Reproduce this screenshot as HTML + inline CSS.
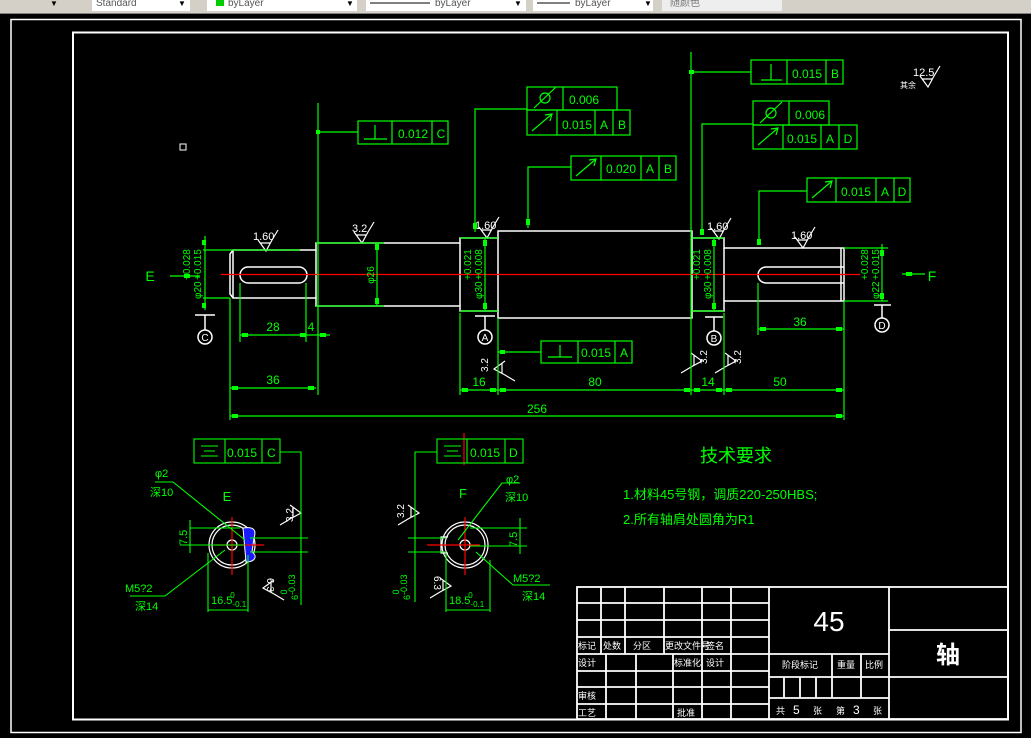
<!DOCTYPE html>
<html><head><meta charset="utf-8"><style>
html,body{margin:0;padding:0;background:#000;width:1031px;height:738px;overflow:hidden}
svg{display:block}
text{font-family:"Liberation Sans","Noto Sans CJK SC",sans-serif}
</style></head><body>
<svg width="1031" height="738" viewBox="0 0 1031 738" xmlns="http://www.w3.org/2000/svg">
<rect width="1031" height="738" fill="#000"/>
<!-- toolbar -->
<rect x="0" y="0" width="1031" height="14" fill="#d4d0c8"/>
<rect x="0" y="13" width="1031" height="1" fill="#808080"/>
<rect x="92" y="0" width="98" height="11" fill="#fff"/><text x="96" y="6" font-size="10" fill="#555">Standard</text>
<rect x="207" y="0" width="150" height="11" fill="#fff"/><rect x="216" y="0" width="8" height="6" fill="#0c0"/><text x="228" y="6" font-size="10" fill="#555">byLayer</text>
<rect x="366" y="0" width="160" height="11" fill="#fff"/><line x1="370" y1="3" x2="430" y2="3" stroke="#000"/><text x="435" y="6" font-size="10" fill="#555">byLayer</text>
<rect x="533" y="0" width="120" height="11" fill="#fff"/><line x1="537" y1="3" x2="570" y2="3" stroke="#000"/><text x="575" y="6" font-size="10" fill="#555">byLayer</text>
<rect x="662" y="0" width="120" height="11" fill="#eee"/><text x="670" y="6" font-size="10" fill="#777">随颜色</text>
<text x="50" y="6" font-size="8" fill="#000">▼</text><text x="178" y="6" font-size="8" fill="#000">▼</text><text x="346" y="6" font-size="8" fill="#000">▼</text><text x="514" y="6" font-size="8" fill="#000">▼</text><text x="644" y="6" font-size="8" fill="#000">▼</text>
<!-- frames -->
<rect x="11" y="19.5" width="1010" height="713" fill="none" stroke="#fff" stroke-width="1.5"/>
<rect x="73" y="32.5" width="935" height="687" fill="none" stroke="#fff" stroke-width="2"/>
<rect x="180" y="144" width="6" height="6" fill="none" stroke="#fff"/>

<g stroke="#fff" stroke-width="1.5" fill="none">
<path d="M233,250 L316,250 L316,243 L460,243 L460,238 L498,238 L498,231 L692,231 L692,238 L724,238 L724,248 L844,248 L844,301 L724,301 L724,311 L692,311 L692,318 L498,318 L498,311 L460,311 L460,306 L316,306 L316,298 L233,298 L230,294 L230,254 Z"/>
<line x1="233" y1="250" x2="233" y2="298"/>
<line x1="841" y1="248" x2="841" y2="301"/>
<line x1="316" y1="250" x2="316" y2="298"/>
<line x1="460" y1="243" x2="460" y2="306"/>
<line x1="498" y1="238" x2="498" y2="311"/>
<line x1="692" y1="238" x2="692" y2="311"/>
<line x1="724" y1="248" x2="724" y2="301"/>
<rect x="240" y="267" width="67" height="16" rx="8"/>
<path d="M844,267 L766,267 A8,8 0 0 0 766,283 L844,283"/>
<line x1="195" y1="315" x2="215" y2="315"/><line x1="205" y1="315" x2="205" y2="330"/><circle cx="205" cy="337" r="7"/>
<line x1="475" y1="316" x2="495" y2="316"/><line x1="485" y1="316" x2="485" y2="330"/><circle cx="485" cy="337" r="7"/>
<line x1="705" y1="317" x2="723" y2="317"/><line x1="714" y1="317" x2="714" y2="331"/><circle cx="714" cy="338" r="7"/>
<line x1="874" y1="305" x2="891" y2="305"/><line x1="882" y1="305" x2="882" y2="318"/><circle cx="882" cy="325" r="7"/>
</g>
<g font-size="10" fill="#fff" text-anchor="middle"><text x="205" y="341">C</text><text x="485" y="341">A</text><text x="714" y="342">B</text><text x="882" y="329">D</text></g>

<line x1="221" y1="274.5" x2="860" y2="274.5" stroke="#f00" stroke-width="1.3"/>

<g stroke="#fff" stroke-width="1.2" fill="none">
<path d="M258,240 L266,251 L272,240 L278,230 M260,243 L270,243"/>
<path d="M354,232 L362,243 L368,232 L374,222 M356,235 L366,235"/>
<path d="M479,227 L487,238 L493,227 L499,217 M481,230 L491,230"/>
<path d="M711,228 L719,239 L725,228 L731,218 M713,231 L723,231"/>
<path d="M795,237 L803,248 L809,237 L815,227 M797,240 L807,240"/>
<path d="M920,76 L928,87 L934,76 L940,66 M922,79 L932,79"/>
<path d="M505,361 L494,369 L505,375 L515,381 M502,363 L502,373"/>
<path d="M691,353 L702,361 L691,367 L681,373 M694,355 L694,365"/>
<path d="M725,353 L736,361 L725,367 L715,373 M728,355 L728,365"/>
<path d="M290,505 L301,513 L290,519 L280,525 M293,507 L293,517"/>
<path d="M274,580 L263,588 L274,594 L284,600 M271,582 L271,592"/>
<path d="M408,505 L419,513 L408,519 L398,525 M411,507 L411,517"/>
<path d="M440,578 L451,586 L440,592 L430,598 M443,580 L443,590"/>
</g>
<g font-size="11" fill="#fff">
<text x="253" y="240">1.60</text><text x="352" y="232">3.2</text><text x="475" y="229">1.60</text><text x="707" y="230">1.60</text><text x="791" y="239">1.60</text><text x="913" y="76">12.5</text>
<text x="900" y="88" font-size="8">其余</text>
<text transform="translate(488,372) rotate(-90)" font-size="10">3.2</text>
<text transform="translate(707,364) rotate(-90)" font-size="10">3.2</text>
<text transform="translate(741,364) rotate(-90)" font-size="10">3.2</text>
<text transform="translate(293,522) rotate(-90)" font-size="10">3.2</text>
<text transform="translate(267,578) rotate(90)" font-size="10">6.3</text>
<text transform="translate(404,518) rotate(-90)" font-size="10">3.2</text>
<text transform="translate(434,576) rotate(90)" font-size="10">6.3</text>
</g>

<g stroke="#0f0" stroke-width="1.2" fill="none">
<line x1="203" y1="250" x2="300" y2="250"/><line x1="203" y1="298" x2="230" y2="298"/><line x1="205" y1="236" x2="205" y2="310"/>
<line x1="170" y1="276" x2="200" y2="276"/>
<line x1="240" y1="283" x2="240" y2="342"/><line x1="306" y1="283" x2="306" y2="342"/><line x1="240" y1="335" x2="330" y2="335"/>
<line x1="318" y1="103" x2="318" y2="395"/>
<line x1="230" y1="298" x2="230" y2="420"/><line x1="230" y1="388" x2="316" y2="388"/>
<line x1="230" y1="416" x2="844" y2="416"/>
<line x1="844" y1="301" x2="844" y2="420"/>
<line x1="316" y1="243" x2="384" y2="243"/><line x1="316" y1="306" x2="384" y2="306"/><line x1="377" y1="243" x2="377" y2="306"/>
<line x1="460" y1="238" x2="498" y2="238"/><line x1="460" y1="311" x2="498" y2="311"/><line x1="485" y1="238" x2="485" y2="311"/>
<line x1="460" y1="313" x2="460" y2="395"/><line x1="498" y1="318" x2="498" y2="395"/>
<line x1="460" y1="390" x2="844" y2="390"/>
<line x1="498" y1="352" x2="541" y2="352"/>
<line x1="692" y1="238" x2="724" y2="238"/><line x1="692" y1="311" x2="724" y2="311"/><line x1="714" y1="238" x2="714" y2="311"/>
<line x1="691" y1="52" x2="691" y2="395"/><line x1="724" y1="313" x2="724" y2="395"/>
<line x1="844" y1="248" x2="888" y2="248"/><line x1="844" y1="301" x2="888" y2="301"/><line x1="882" y1="244" x2="882" y2="301"/>
<line x1="758" y1="283" x2="758" y2="335"/><line x1="758" y1="329" x2="844" y2="329"/>
<line x1="902" y1="274" x2="925" y2="274"/>
<line x1="318" y1="132" x2="358" y2="132"/>
<path d="M527,109 L475,109 L475,232"/>
<path d="M571,167 L528,167 L528,228"/>
<line x1="691" y1="72" x2="751" y2="72"/>
<path d="M753,124 L702,124 L702,235"/>
<path d="M807,191 L759,191 L759,245"/>
<rect x="358" y="121" width="90" height="23"/><line x1="392" y1="121" x2="392" y2="144"/><line x1="432" y1="121" x2="432" y2="144"/>
<rect x="527" y="87" width="90" height="23"/><line x1="563" y1="87" x2="563" y2="110"/>
<rect x="527" y="110" width="103" height="25"/><line x1="557" y1="110" x2="557" y2="135"/><line x1="595" y1="110" x2="595" y2="135"/><line x1="613" y1="110" x2="613" y2="135"/>
<rect x="571" y="156" width="105" height="24"/><line x1="601" y1="156" x2="601" y2="180"/><line x1="641" y1="156" x2="641" y2="180"/><line x1="659" y1="156" x2="659" y2="180"/>
<rect x="751" y="60" width="92" height="24"/><line x1="787" y1="60" x2="787" y2="84"/><line x1="826" y1="60" x2="826" y2="84"/>
<rect x="753" y="101" width="76" height="24"/><line x1="789" y1="101" x2="789" y2="125"/>
<rect x="753" y="125" width="104" height="24"/><line x1="783" y1="125" x2="783" y2="149"/><line x1="821" y1="125" x2="821" y2="149"/><line x1="839" y1="125" x2="839" y2="149"/>
<rect x="807" y="178" width="103" height="24"/><line x1="836" y1="178" x2="836" y2="202"/><line x1="876" y1="178" x2="876" y2="202"/><line x1="894" y1="178" x2="894" y2="202"/>
<rect x="541" y="341" width="91" height="22"/><line x1="578" y1="341" x2="578" y2="363"/><line x1="615" y1="341" x2="615" y2="363"/>
<path d="M364,139 L387,139 M375,125 L375,139"/>
<path d="M761,80 L782,80 M771,64 L771,80"/>
<path d="M548,357 L572,357 M560,345 L560,357"/>
<circle cx="545" cy="98" r="5"/><line x1="534" y1="108" x2="556" y2="87"/>
<circle cx="771" cy="113" r="5"/><line x1="760" y1="123" x2="782" y2="102"/>
<path d="M532,131 L552,114 M545,115 L552,114 L550,121"/>
<path d="M576,176 L596,159 M589,160 L596,159 L594,166"/>
<path d="M758,145 L778,128 M771,129 L778,128 L776,135"/>
<path d="M812,198 L832,181 M825,182 L832,181 L830,188"/>
</g>
<g fill="#0f0">
<rect x="202" y="240" width="4" height="5"/><rect x="202" y="303" width="4" height="5"/><rect x="184" y="274" width="6" height="4"/>
<rect x="242" y="333" width="6" height="4"/><rect x="300" y="333" width="6" height="4"/><rect x="320" y="333" width="6" height="4"/>
<rect x="232" y="386" width="6" height="4"/><rect x="308" y="386" width="6" height="4"/>
<rect x="232" y="414" width="6" height="4"/><rect x="836" y="414" width="6" height="4"/>
<rect x="462" y="388" width="6" height="4"/><rect x="490" y="388" width="6" height="4"/><rect x="500" y="388" width="6" height="4"/><rect x="684" y="388" width="6" height="4"/><rect x="694" y="388" width="6" height="4"/><rect x="716" y="388" width="6" height="4"/><rect x="726" y="388" width="6" height="4"/><rect x="836" y="388" width="6" height="4"/>
<rect x="375" y="244" width="4" height="6" /><rect x="375" y="298" width="4" height="6"/>
<rect x="483" y="240" width="4" height="6"/><rect x="483" y="303" width="4" height="6"/>
<rect x="712" y="240" width="4" height="6"/><rect x="712" y="303" width="4" height="6"/>
<rect x="880" y="250" width="4" height="6"/><rect x="880" y="293" width="4" height="6"/>
<rect x="760" y="327" width="6" height="4"/><rect x="836" y="327" width="6" height="4"/>
<rect x="906" y="272" width="6" height="4"/>
<rect x="316" y="130" width="4" height="4"/><rect x="473" y="223" width="4" height="6"/><rect x="526" y="219" width="4" height="6"/><rect x="689" y="70" width="5" height="4"/><rect x="700" y="229" width="4" height="6"/><rect x="757" y="239" width="4" height="6"/><rect x="500" y="350" width="5" height="4"/>
</g>
<g fill="#0f0" font-size="12" text-anchor="middle">
<text x="273" y="331">28</text><text x="311" y="331">4</text><text x="273" y="384">36</text><text x="537" y="413">256</text>
<text x="479" y="386">16</text><text x="595" y="386">80</text><text x="708" y="386">14</text><text x="780" y="386">50</text><text x="800" y="326">36</text>
<text x="150" y="281" font-size="14">E</text><text x="932" y="281" font-size="14">F</text>
<text x="413" y="138">0.012</text><text x="441" y="138">C</text>
<text x="584" y="104">0.006</text>
<text x="577" y="129">0.015</text><text x="604" y="129">A</text><text x="622" y="129">B</text>
<text x="621" y="173">0.020</text><text x="650" y="173">A</text><text x="668" y="173">B</text>
<text x="807" y="78">0.015</text><text x="835" y="78">B</text>
<text x="810" y="119">0.006</text>
<text x="802" y="143">0.015</text><text x="830" y="143">A</text><text x="848" y="143">D</text>
<text x="856" y="196">0.015</text><text x="885" y="196">A</text><text x="902" y="196">D</text>
<text x="596" y="357">0.015</text><text x="624" y="357">A</text>
<text transform="translate(374,275) rotate(-90)" font-size="10">φ26</text>
</g>
<g fill="#0f0" font-size="10">
<g transform="translate(201,299) rotate(-90)"><text x="0" y="0">φ20</text><text x="19" y="0">+0.015</text><text x="19" y="-11">+0.028</text></g>
<g transform="translate(482,299) rotate(-90)"><text x="0" y="0">φ30</text><text x="19" y="0">+0.008</text><text x="19" y="-11">+0.021</text></g>
<g transform="translate(711,299) rotate(-90)"><text x="0" y="0">φ30</text><text x="19" y="0">+0.008</text><text x="19" y="-11">+0.021</text></g>
<g transform="translate(879,299) rotate(-90)"><text x="0" y="0">φ22</text><text x="19" y="0">+0.015</text><text x="19" y="-11">+0.028</text></g>
</g>

<g stroke="#fff" stroke-width="1.2" fill="none">
<circle cx="232" cy="545" r="23"/><circle cx="232" cy="545" r="20"/><circle cx="232" cy="545" r="5"/>
<circle cx="465" cy="545" r="23"/><circle cx="465" cy="545" r="20"/><circle cx="465" cy="545" r="5"/>
<path d="M448,537 L441,537 L441,553 L448,553"/>
</g>
<path d="M243,528 C256,526 256,532 254,538 L252,552 C258,556 255,562 246,562 Z" fill="#1a1aff" stroke="#fff"/>
<g stroke="#f00" stroke-width="1.2">
<line x1="232" y1="517" x2="232" y2="575"/><line x1="215" y1="545" x2="264" y2="545"/>
<line x1="465" y1="517" x2="465" y2="575"/><line x1="427" y1="545" x2="480" y2="545"/>
<line x1="464" y1="433" x2="464" y2="465"/>
</g>
<g stroke="#0f0" stroke-width="1.1" fill="none">
<rect x="194" y="439" width="86" height="24"/><line x1="225" y1="439" x2="225" y2="463"/><line x1="262" y1="439" x2="262" y2="463"/>
<path d="M201,446 L218,446 M204,451 L215,451 M201,456 L218,456"/>
<path d="M280,452 L301,452 L301,605"/>
<line x1="250" y1="538" x2="308" y2="538"/><line x1="250" y1="552" x2="308" y2="552"/>
<line x1="190" y1="528" x2="240" y2="528"/><line x1="180" y1="545" x2="245" y2="545"/><line x1="190" y1="520" x2="190" y2="553"/>
<line x1="208" y1="553" x2="208" y2="612"/><line x1="248" y1="555" x2="248" y2="612"/><line x1="208" y1="610" x2="248" y2="610"/>
<path d="M155,482 L173,482 L245,540"/><path d="M130,596 L165,596 L225,550"/>
<rect x="437" y="439" width="86" height="24"/><line x1="467" y1="439" x2="467" y2="463"/><line x1="505" y1="439" x2="505" y2="463"/>
<path d="M444,446 L461,446 M447,451 L458,451 M444,456 L461,456"/>
<path d="M437,452 L415,452 L415,602"/>
<line x1="408" y1="538" x2="445" y2="538"/><line x1="408" y1="552" x2="445" y2="552"/>
<line x1="470" y1="528" x2="527" y2="528"/><line x1="470" y1="546" x2="527" y2="546"/><line x1="520" y1="518" x2="520" y2="554"/>
<line x1="446" y1="553" x2="446" y2="612"/><line x1="490" y1="560" x2="490" y2="612"/><line x1="446" y1="610" x2="490" y2="610"/>
<path d="M520,483 L502,483 L458,540"/><path d="M550,585 L513,585 L476,552"/>
</g>
<g fill="#0f0" font-size="11">
<text x="227" y="457" font-size="12">0.015</text><text x="267" y="457" font-size="12">C</text>
<text x="470" y="457" font-size="12">0.015</text><text x="509" y="457" font-size="12">D</text>
<text x="227" y="501" font-size="13" text-anchor="middle">E</text><text x="463" y="498" font-size="13" text-anchor="middle">F</text>
<text x="155" y="477">φ2</text><text x="150" y="496">深10</text>
<text x="506" y="483">φ2</text><text x="505" y="501">深10</text>
<text x="125" y="592">M5?2</text><text x="135" y="610">深14</text>
<text x="513" y="582">M5?2</text><text x="522" y="600">深14</text>
<text x="211" y="604">16.5<tspan font-size="8" dy="3">-0.1</tspan><tspan font-size="8" dx="-16" dy="-9">0</tspan></text>
<text x="449" y="604">18.5<tspan font-size="8" dy="3">-0.1</tspan><tspan font-size="8" dx="-16" dy="-9">0</tspan></text>
<text transform="translate(187,545) rotate(-90)">7.5</text>
<text transform="translate(517,547) rotate(-90)">7.5</text>
<text transform="translate(298,600) rotate(-90)" font-size="9">6<tspan dy="-3">-0.03</tspan><tspan dx="-20" dy="-8">0</tspan></text>
<text transform="translate(410,600) rotate(-90)" font-size="9">6<tspan dy="-3">-0.03</tspan><tspan dx="-20" dy="-8">0</tspan></text>
</g>

<g fill="#0f0">
<text x="700" y="462" font-size="18">技术要求</text>
<text x="623" y="499" font-size="13">1.材料45号钢，调质220-250HBS;</text>
<text x="623" y="524" font-size="13">2.所有轴肩处圆角为R1</text>
</g>

<g stroke="#fff" stroke-width="1.8" fill="none">
<rect x="577" y="587" width="431" height="132"/>
<line x1="577" y1="603" x2="769" y2="603"/><line x1="577" y1="620" x2="769" y2="620"/><line x1="577" y1="637" x2="769" y2="637"/>
<line x1="577" y1="654" x2="889" y2="654"/><line x1="577" y1="671" x2="769" y2="671"/><line x1="577" y1="687" x2="769" y2="687"/><line x1="577" y1="704" x2="769" y2="704"/>
<line x1="601" y1="587" x2="601" y2="654"/><line x1="625" y1="587" x2="625" y2="654"/><line x1="664" y1="587" x2="664" y2="654"/>
<line x1="702" y1="587" x2="702" y2="719"/><line x1="731" y1="587" x2="731" y2="719"/><line x1="769" y1="587" x2="769" y2="719"/>
<line x1="606" y1="654" x2="606" y2="719"/><line x1="636" y1="654" x2="636" y2="719"/><line x1="673" y1="654" x2="673" y2="719"/>
<line x1="889" y1="587" x2="889" y2="719"/>
<line x1="769" y1="677" x2="1008" y2="677"/><line x1="769" y1="698" x2="889" y2="698"/>
<line x1="889" y1="630" x2="1008" y2="630"/>
<line x1="832" y1="654" x2="832" y2="698"/><line x1="861" y1="654" x2="861" y2="698"/>
<line x1="784" y1="677" x2="784" y2="698"/><line x1="800" y1="677" x2="800" y2="698"/><line x1="816" y1="677" x2="816" y2="698"/>
</g>
<g fill="#fff" font-size="9">
<text x="578" y="649">标记</text><text x="603" y="649">处数</text><text x="633" y="649">分区</text><text x="665" y="649">更改文件号</text><text x="706" y="649">签名</text>
<text x="578" y="666">设计</text><text x="674" y="666">标准化</text><text x="706" y="666">设计</text>
<text x="578" y="699">审核</text><text x="578" y="716">工艺</text><text x="677" y="716">批准</text>
<text x="782" y="668">阶段标记</text><text x="837" y="668">重量</text><text x="865" y="668">比例</text>
<text x="776" y="714">共</text><text x="793" y="714" font-size="12">5</text><text x="813" y="714">张</text><text x="836" y="714">第</text><text x="853" y="714" font-size="12">3</text><text x="873" y="714">张</text>
<text x="829" y="631" font-size="28" text-anchor="middle">45</text>
<text x="948" y="663" font-size="24" font-weight="bold" text-anchor="middle">轴</text>
</g>
</svg>
</body></html>
